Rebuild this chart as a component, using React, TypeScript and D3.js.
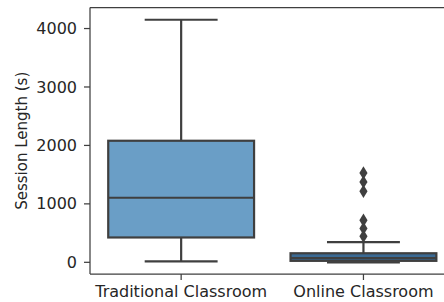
import React from 'react';
import * as d3 from 'd3';

// categories and their five-number summaries (seconds)
const categories = ['Traditional Classroom', 'Online Classroom'];
const whiskerLow = [15, 0];
const q1 = [425, 25];
const medians = [1105, 70];
const q3 = [2080, 155];
const whiskerHigh = [4150, 345];
const boxColors = ['#6a9ec6', '#3b6a94'];
// outliers for the online group
const onlineOutliers = [1530, 1375, 1215, 720, 580, 445];
const yTicks = [0, 1000, 2000, 3000, 4000];

const W = 444;
const H = 302;
const margin = { top: 7.5, left: 90, bottom: 274 };
const edge = '#3f3f3f';
const textColor = '#262626';
const fs = 16;

export default function App() {
  const x = d3.scaleBand<string>().domain(categories).range([margin.left, 454.6]).padding(0);
  const y = d3.scaleLinear().domain([-200, 4360]).range([margin.bottom, margin.top]);
  const bw = x.bandwidth() * 0.8;
  const diamond = d3.symbol().type(d3.symbolDiamond).size(80)();

  return (
    <svg width={W} height={H} style={{ position: 'absolute', left: 0, top: 0 }} fontFamily="DejaVu Sans">
      {/* spines */}
      <line x1={margin.left} x2={margin.left} y1={margin.top} y2={margin.bottom} stroke={edge} strokeWidth={1.25} />
      <line x1={margin.left} x2={W} y1={margin.top} y2={margin.top} stroke={edge} strokeWidth={1.25} />
      <line x1={margin.left} x2={W} y1={margin.bottom} y2={margin.bottom} stroke={edge} strokeWidth={1.25} />

      {/* y ticks */}
      {yTicks.map(t => (
        <g key={t}>
          <line x1={margin.left - 6} x2={margin.left} y1={y(t)} y2={y(t)} stroke={edge} strokeWidth={1.25} />
          <text x={margin.left - 13} y={y(t)} dy="0.35em" textAnchor="end" fontSize={fs} fill={textColor}>{t}</text>
        </g>
      ))}
      <text transform={`translate(22,${(margin.top + margin.bottom) / 2}) rotate(-90)`} textAnchor="middle" fontSize={15} fill={textColor} dy="0.35em">Session Length (s)</text>

      {/* x ticks */}
      {categories.map(c => {
        const cx = x(c)! + x.bandwidth() / 2;
        return (
          <g key={c}>
            <line x1={cx} x2={cx} y1={margin.bottom} y2={margin.bottom + 6} stroke={edge} strokeWidth={1.25} />
            <text x={cx} y={297} textAnchor="middle" fontSize={fs} fill={textColor}>{c}</text>
          </g>
        );
      })}

      {/* boxes */}
      {categories.map((c, i) => {
        const cx = x(c)! + x.bandwidth() / 2;
        const capW = bw / 2;
        return (
          <g key={c} stroke={edge} strokeWidth={2.2}>
            <line x1={cx} x2={cx} y1={y(q3[i])} y2={y(whiskerHigh[i])} />
            <line x1={cx} x2={cx} y1={y(q1[i])} y2={y(whiskerLow[i])} />
            <line x1={cx - capW / 2} x2={cx + capW / 2} y1={y(whiskerHigh[i])} y2={y(whiskerHigh[i])} />
            <line x1={cx - capW / 2} x2={cx + capW / 2} y1={y(whiskerLow[i])} y2={y(whiskerLow[i])} />
            <rect x={cx - bw / 2} width={bw} y={y(q3[i])} height={y(q1[i]) - y(q3[i])} fill={boxColors[i]} />
            <line x1={cx - bw / 2} x2={cx + bw / 2} y1={y(medians[i])} y2={y(medians[i])} />
          </g>
        );
      })}

      {/* outliers */}
      {onlineOutliers.map((v, i) => (
        <path key={i} d={diamond!} transform={`translate(${x(categories[1])! + x.bandwidth() / 2},${y(v)}) scale(0.85,0.8)`} fill={edge} />
      ))}
    </svg>
  );
}
